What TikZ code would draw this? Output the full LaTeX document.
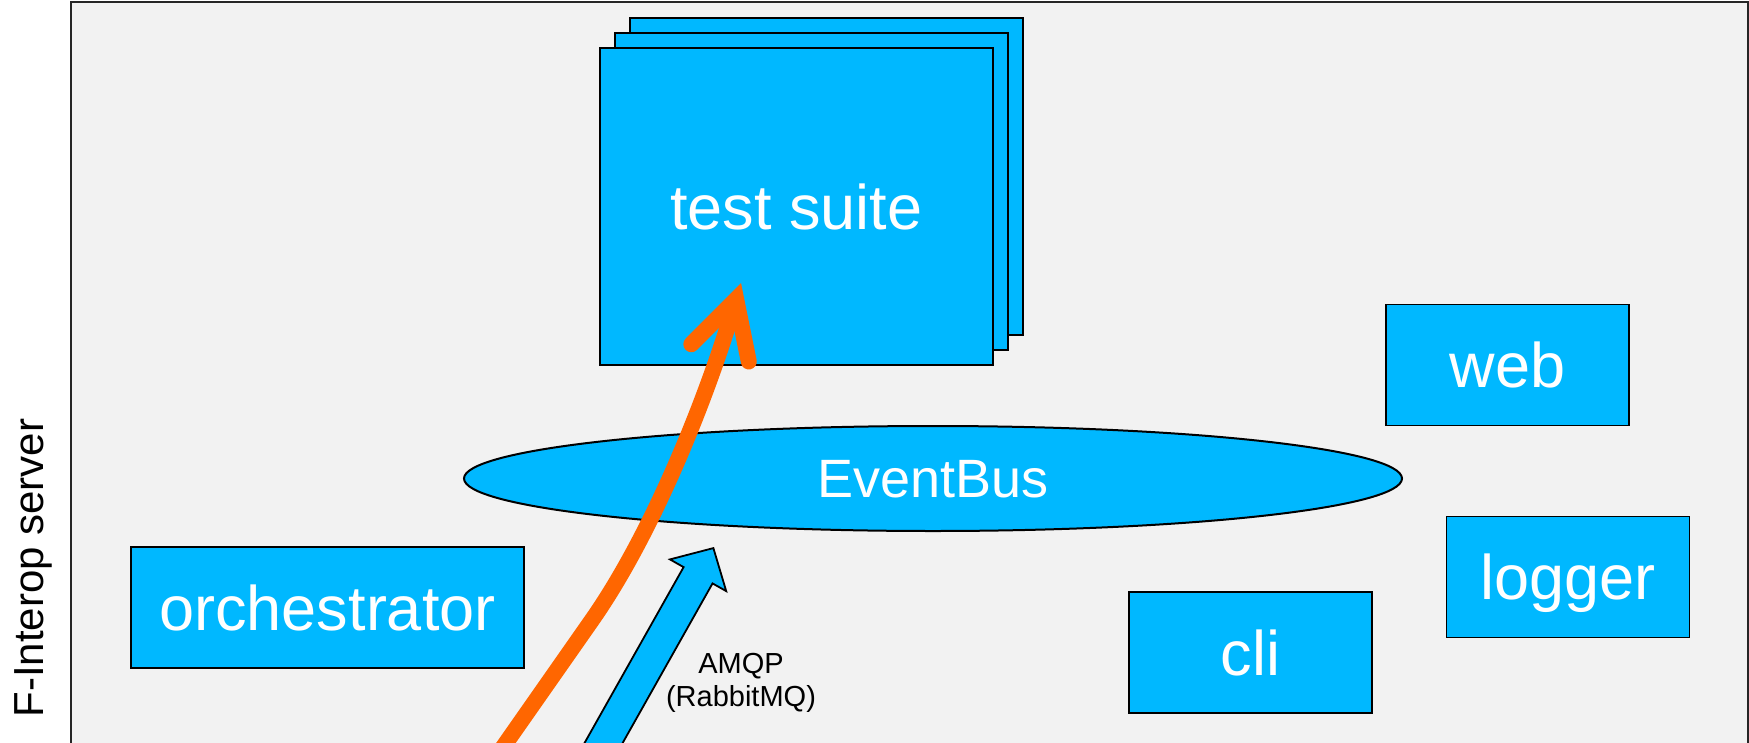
\documentclass[tikz,border=0pt]{standalone}
\usepackage{fontspec}
\setmainfont{Liberation Sans}
\usetikzlibrary{shapes.geometric, shapes.arrows, arrows.meta}

\definecolor{fiblue}{RGB}{0,184,255}
\definecolor{fiorange}{RGB}{255,102,0}
\definecolor{figray}{RGB}{242,242,242}

\tikzset{
	box/.style={draw=black, line width=1.8pt, fill=fiblue, text=white, inner sep=0pt,
		font=\fontsize{63}{75}\selectfont, text height=45pt, text depth=0pt,
		minimum width=243pt, minimum height=121pt},
	bus/.style={ellipse, draw=black, line width=2pt, fill=fiblue, text=white, inner sep=0pt,
		font=\fontsize{54}{64}\selectfont, text height=38.7pt, text depth=0pt},
	flow/.style={fiorange, line width=16pt,
		-{Straight Barb[length=56pt, width=60pt, line cap=round, line join=miter]}},
	amqpbox/.style={single arrow, draw=black, line width=1.8pt, fill=fiblue, inner sep=0pt,
		text height=15.7pt, text depth=15.7pt, text width=0pt,
		single arrow head extend=15.7pt, single arrow tip angle=92, minimum height=300pt}
}

\begin{document}
\begin{tikzpicture}[x=1pt, y=-1pt]
	\useasboundingbox (0,0) rectangle (1749,742);
	\clip (0,0) rectangle (1749,742);

	% Ramme
	\draw[fill=figray, draw=black!85, line width=2pt] (71,2) rectangle (1748,780);
	\node[rotate=90, anchor=base, font=\fontsize{42}{50}\selectfont] (server) at (43,568) {F-Interop server};

	% Testsuite med kopier bak
	\node[box, minimum width=393pt, minimum height=317pt] (suiteback) at (826.5,176.5) {};
	\node[box, minimum width=393pt, minimum height=317pt] (suitemid) at (811.5,191.5) {};
	\node[box, minimum width=393pt, minimum height=317pt] (suite) at (796.5,206.5) {test suite};

	% EventBus
	\node[bus, minimum width=938pt, minimum height=105pt] (eventbus) at (933,478.5) {EventBus};

	% Komponenter
	\node[box] (web) at (1507.5,365) {web};
	\node[box] (logger) at (1568,577) {logger};
	\node[box] (cli) at (1250.5,652.5) {cli};
	\node[box, minimum width=393pt] (orchestrator) at (327.5,607.5) {orchestrator};

	% Oransje pil inn i testsuiten
	\coordinate (ostart) at (466,800);
	\coordinate (obend) at (592,620);
	\coordinate (otip) at (741,283);
	\draw[flow] (ostart) -- (obend) .. controls (648,540) and (702,413) .. (otip);

	% AMQP-pil
	\coordinate (atip) at (714,547);
	\node[amqpbox, rotate=60.6, anchor=tip] (amqparrow) at (atip) {};
	\node[font=\fontsize{29}{33}\selectfont, align=center] (amqp) at (741,683) {AMQP\\(RabbitMQ)};
\end{tikzpicture}
\end{document}
